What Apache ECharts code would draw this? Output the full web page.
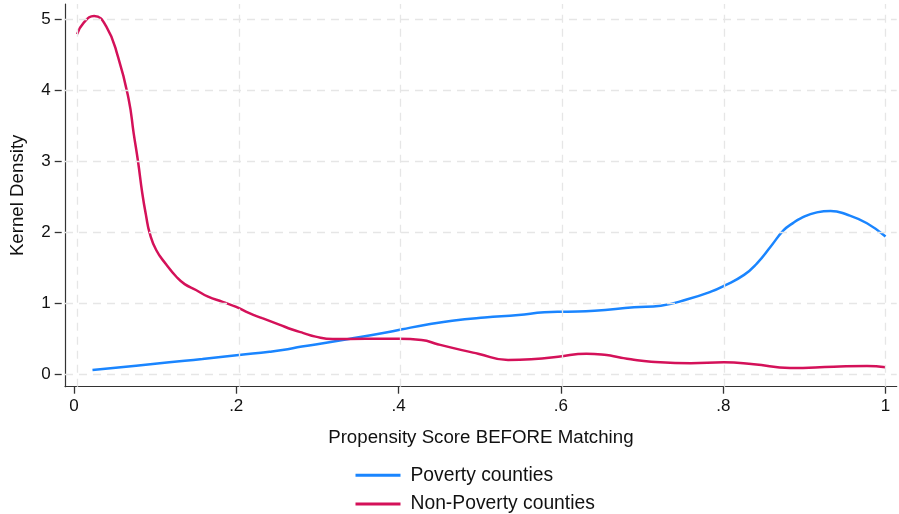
<!DOCTYPE html>
<html>
<head>
<meta charset="utf-8">
<script src="https://cdn.jsdelivr.net/npm/echarts@6/dist/echarts.min.js"></script>
<style>
  html, body { margin: 0; padding: 0; background: #fff; }
  #chart { width: 899px; height: 514px; }
</style>
</head>
<body>
<div id="chart"></div>
<script>
// Kernel density estimates of the propensity score, by county group
const povertyX = [0.019, 0.073, 0.114, 0.155, 0.200, 0.238, 0.254, 0.278, 0.295, 0.336, 0.377, 0.402, 0.435, 0.464, 0.504, 0.546, 0.578, 0.607, 0.640, 0.689, 0.722, 0.755, 0.784, 0.800, 0.825, 0.841, 0.858, 0.874, 0.885, 0.895, 0.915, 0.932, 0.952, 0.977, 1.000];
const povertyY = [0.061, 0.120, 0.169, 0.215, 0.272, 0.318, 0.342, 0.390, 0.420, 0.497, 0.577, 0.634, 0.704, 0.755, 0.800, 0.835, 0.873, 0.882, 0.896, 0.943, 0.966, 1.056, 1.163, 1.244, 1.400, 1.563, 1.800, 2.030, 2.125, 2.197, 2.280, 2.300, 2.250, 2.127, 1.940];

const nonPovertyX = [0.000, 0.008, 0.021, 0.036, 0.0506, 0.0638, 0.070, 0.0753, 0.0806, 0.0855, 0.0897, 0.0978, 0.110, 0.123, 0.133, 0.147, 0.162, 0.180, 0.196, 0.213, 0.229, 0.250, 0.266, 0.280, 0.295, 0.316, 0.357, 0.398, 0.426, 0.447, 0.476, 0.496, 0.533, 0.566, 0.595, 0.630, 0.655, 0.670, 0.685, 0.710, 0.759, 0.800, 0.837, 0.882, 0.936, 0.977, 1.000];
const nonPovertyY = [4.79, 4.95, 5.046, 4.90, 4.47, 3.87, 3.39, 3.00, 2.55, 2.22, 1.99, 1.75, 1.55, 1.37, 1.27, 1.187, 1.093, 1.02, 0.952, 0.86, 0.79, 0.70, 0.63, 0.58, 0.53, 0.497, 0.50, 0.50, 0.483, 0.42, 0.34, 0.29, 0.201, 0.215, 0.248, 0.29, 0.27, 0.24, 0.211, 0.178, 0.155, 0.169, 0.141, 0.089, 0.107, 0.117, 0.099];

const seriesNames = ['Poverty counties', 'Non-Poverty counties'];
const xTickValues = [0, 0.2, 0.4, 0.6, 0.8, 1];
const xTickLabels = ['0', '.2', '.4', '.6', '.8', '1'];
const yTickValues = [0, 1, 2, 3, 4, 5];
const yTickLabels = ['0', '1', '2', '3', '4', '5'];

const xTitle = 'Propensity Score BEFORE Matching';
const yTitle = 'Kernel Density';

const zip = (xs, ys) => xs.map((x, i) => [x, ys[i]]);
const labelFor = (values, labels) => v => {
  const i = values.findIndex(t => Math.abs(t - v) < 1e-9);
  return i >= 0 ? labels[i] : '';
};

const FONT = '"Liberation Sans", Arial, Helvetica, sans-serif';
const AXIS_COLOR = '#333';
const GRID_COLOR = '#e6e6e6';
const TEXT_COLOR = '#111';

// Outer plot region (axis lines, data) and inner region spanning exactly
// the tick range [0,1] x [0,5]; the inner axes are pushed out onto the
// outer axis lines with `offset` so ticks and labels sit on them.
const OUTER = { left: 61.7, right: 2.3, top: 4, bottom: 127.3 };
const INNER = { left: 73.9, right: 13.4, top: 19, bottom: 139.7 };
const X_OFFSET = INNER.bottom - OUTER.bottom; // 12.4
const Y_OFFSET = INNER.left - OUTER.left;     // 12.2

// the inner axes keep an invisible line; their ticks and labels carry the scale
const hiddenLine = { show: true, onZero: false, lineStyle: { color: AXIS_COLOR, opacity: 0 } };
const tickStyle = { show: true, inside: false, length: 7, lineStyle: { color: AXIS_COLOR, width: 1.3 } };

const chart = echarts.init(document.getElementById('chart'), null, { renderer: 'canvas' });

chart.setOption({
  animation: false,
  backgroundColor: '#fff',
  textStyle: { fontFamily: FONT },
  grid: [
    Object.assign({ containLabel: false }, OUTER),
    Object.assign({ containLabel: false }, INNER)
  ],
  xAxis: [
    {
      gridIndex: 0,
      type: 'value',
      min: -0.015,
      max: 1.0138,
      name: xTitle,
      nameLocation: 'middle',
      nameGap: 42,
      nameTextStyle: { fontSize: 18.7, color: TEXT_COLOR, fontFamily: FONT },
      axisLine: { show: true, onZero: false, lineStyle: { color: AXIS_COLOR, width: 1.2 } },
      axisTick: { show: false },
      axisLabel: { show: false },
      splitLine: { show: false }
    },
    {
      gridIndex: 1,
      type: 'value',
      position: 'bottom',
      min: 0,
      max: 1,
      interval: 0.2,
      offset: X_OFFSET,
      axisLine: hiddenLine,
      axisTick: tickStyle,
      axisLabel: {
        show: true,
        margin: 11,
        fontSize: 17,
        color: TEXT_COLOR,
        fontFamily: FONT,
        formatter: labelFor(xTickValues, xTickLabels)
      },
      splitLine: { show: false }
    }
  ],
  yAxis: [
    {
      gridIndex: 0,
      type: 'value',
      min: -0.175,
      max: 5.215,
      name: yTitle,
      nameLocation: 'middle',
      nameRotate: 90,
      nameGap: 38,
      nameTextStyle: { fontSize: 18.7, color: TEXT_COLOR, fontFamily: FONT },
      axisLine: { show: true, onZero: false, lineStyle: { color: AXIS_COLOR, width: 1.2 } },
      axisTick: { show: false },
      axisLabel: { show: false },
      splitLine: { show: false }
    },
    {
      gridIndex: 1,
      type: 'value',
      position: 'left',
      min: 0,
      max: 5,
      interval: 1,
      offset: Y_OFFSET,
      axisLine: hiddenLine,
      axisTick: tickStyle,
      axisLabel: {
        show: true,
        margin: 11,
        fontSize: 17,
        color: TEXT_COLOR,
        fontFamily: FONT,
        formatter: labelFor(yTickValues, yTickLabels)
      },
      splitLine: { show: false }
    }
  ],
  legend: {
    data: seriesNames,
    orient: 'vertical',
    left: 354,
    top: 465.3,
    height: 80,
    padding: 0,
    itemWidth: 45,
    itemHeight: 18,
    itemGap: 8.7,
    textStyle: { fontSize: 19.3, lineHeight: 18, color: TEXT_COLOR, fontFamily: FONT, padding: [2, 0, 0, 5] },
    itemStyle: { opacity: 0 },
    lineStyle: { width: 3 }
  },
  series: [
    {
      // dashed reference grid at the tick positions
      name: 'gridlines',
      type: 'line',
      xAxisIndex: 0,
      yAxisIndex: 0,
      data: [],
      silent: true,
      z: 1,
      markLine: {
        silent: true,
        symbol: ['none', 'none'],
        label: { show: false },
        lineStyle: { color: GRID_COLOR, width: 1.3, type: [8, 6] },
        emphasis: { disabled: true },
        data: [
          ...xTickValues.map(v => ({ xAxis: v })),
          ...yTickValues.map(v => ({ yAxis: v }))
        ]
      }
    },
    {
      name: seriesNames[0],
      type: 'line',
      xAxisIndex: 0,
      yAxisIndex: 0,
      data: zip(povertyX, povertyY),
      smooth: 0.5,
      symbol: 'none',
      z: 3,
      lineStyle: { color: '#1a85ff', width: 2.5 },
      itemStyle: { color: '#1a85ff' }
    },
    {
      name: seriesNames[1],
      type: 'line',
      xAxisIndex: 0,
      yAxisIndex: 0,
      data: zip(nonPovertyX, nonPovertyY),
      smooth: 0.5,
      symbol: 'none',
      z: 4,
      lineStyle: { color: '#d41159', width: 2.5 },
      itemStyle: { color: '#d41159' }
    }
  ]
});
</script>
</body>
</html>
